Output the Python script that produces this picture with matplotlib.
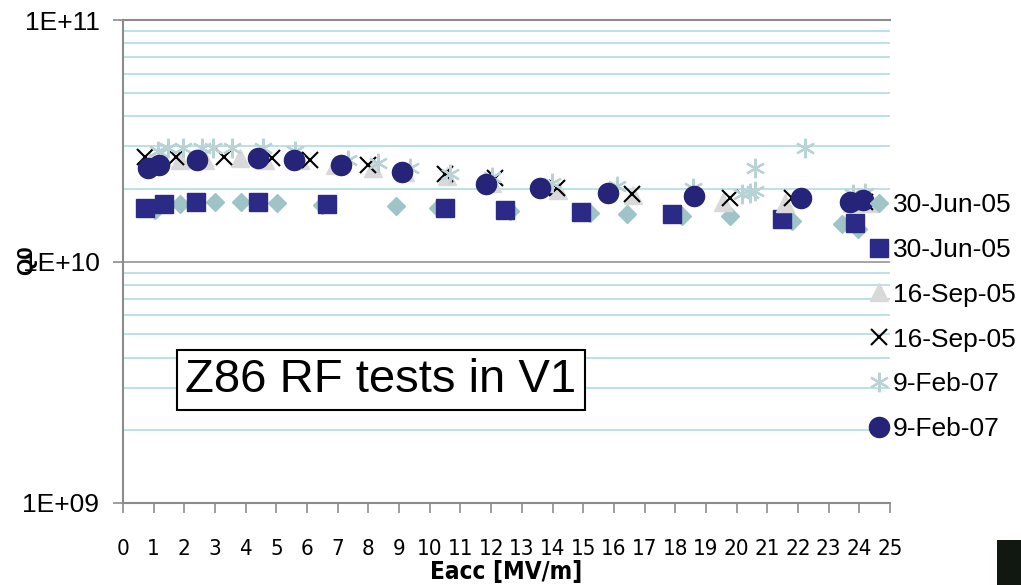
import matplotlib
matplotlib.use("Agg")
import matplotlib.pyplot as plt
from matplotlib import font_manager as fm
from matplotlib.patches import Rectangle
from matplotlib.ticker import FixedLocator, FuncFormatter, NullFormatter
import numpy as np

# ---------------- data ----------------
diam_e = [1.04, 1.86, 3.00, 3.85, 5.02, 6.49, 8.90, 10.27, 12.61, 15.22, 16.43, 18.22, 19.78, 21.81, 23.44, 23.96]
diam_q = [1.64, 1.73, 1.76, 1.76, 1.74, 1.72, 1.69, 1.66, 1.62, 1.59, 1.58, 1.55, 1.54, 1.47, 1.43, 1.36]

sq_e = [0.72, 1.34, 2.38, 4.40, 6.65, 10.50, 12.45, 14.93, 17.89, 21.48, 23.86]
sq_q = [1.66, 1.73, 1.76, 1.76, 1.73, 1.66, 1.63, 1.60, 1.58, 1.50, 1.45]

tri_e = [0.88, 1.86, 2.67, 3.81, 4.63, 5.77, 6.91, 8.15, 9.19, 10.56, 12.03, 14.18, 16.62, 19.56, 21.58, 23.76, 24.3]
tri_q = [2.55, 2.62, 2.62, 2.67, 2.62, 2.62, 2.50, 2.43, 2.34, 2.25, 2.12, 1.97, 1.88, 1.77, 1.75, 1.74, 1.74]

x_e = [0.72, 1.73, 3.29, 4.86, 6.10, 7.99, 10.50, 12.13, 14.15, 16.59, 19.79, 21.81, 24.2]
x_q = [2.70, 2.70, 2.72, 2.67, 2.62, 2.50, 2.31, 2.21, 2.02, 1.91, 1.84, 1.84, 1.77]

ast_e = [1.14, 1.47, 1.96, 2.57, 2.93, 3.55, 4.56, 5.61, 7.33, 8.31, 9.35, 10.66, 12.03, 13.98, 16.10, 18.58,
         20.18, 20.45, 20.60, 20.60, 22.23, 23.80, 24.2]
ast_q = [2.88, 2.94, 2.96, 2.96, 2.96, 2.96, 2.94, 2.88, 2.62, 2.57, 2.45, 2.31, 2.23, 2.12, 2.06, 2.02,
         1.91, 1.93, 1.95, 2.43, 2.94, 1.91, 1.93]

circ_e = [0.81, 1.17, 2.41, 4.40, 5.57, 7.11, 9.09, 11.83, 13.59, 15.81, 18.61, 22.10, 23.70, 24.12]
circ_q = [2.43, 2.52, 2.64, 2.67, 2.64, 2.50, 2.34, 2.10, 2.01, 1.93, 1.86, 1.84, 1.76, 1.79]

labels = ["30-Jun-05", "30-Jun-05", "16-Sep-05", "16-Sep-05", "9-Feb-07", "9-Feb-07"]
x_ticks = list(range(0, 26))
y_ticks = [1e9, 1e10, 1e11]
y_tick_labels = ["1E+09", "1E+10", "1E+11"]
q_scale = 1e10

# ---------------- fonts ----------------
arial = ["Liberation Sans", "DejaVu Sans"]
_fonts = fm.fontManager.ttflist
_names = {f.name for f in _fonts}
narrow_family, narrow_stretch, narrow_size, xlab_size = arial, "normal", 15.5, 16
if "Liberation Sans Narrow" in _names:
    narrow_family, narrow_stretch, narrow_size, xlab_size = ["Liberation Sans Narrow"] + arial, "normal", 19, 18
elif any(f.name == "DejaVu Sans" and str(f.stretch) in ("condensed", "semi-condensed") for f in _fonts):
    narrow_family, narrow_stretch, narrow_size, xlab_size = ["DejaVu Sans"], "condensed", 16, 17.5

# ---------------- figure ----------------
W, H = 1021, 585
fig = plt.figure(figsize=(W / 100, H / 100), dpi=100)
fig.patch.set_facecolor("white")
ax = fig.add_axes([123 / W, (H - 503) / H, (890 - 123) / W, (503 - 20) / H])

series = [
    (diam_e, diam_q, dict(marker="D", ms=9.5, color="#9fc4c8", mec="#9fc4c8")),
    (sq_e, sq_q, dict(marker="s", ms=13.5, color="#2b2a87", mec="#2b2a87")),
    (tri_e, tri_q, dict(marker="^", ms=13, color="#d9d9d9", mec="#d9d9d9")),
    (x_e, x_q, dict(marker="x", ms=12, color="black", mew=1.5)),
    (ast_e, ast_q, dict(marker=(6, 2, 0), ms=14, color="#b7d3d5", mew=1.6)),
    (circ_e, circ_q, dict(marker="o", ms=14.5, color="#262479", mec="#262479")),
]
handles = []
for (e, q, kw), lab in zip(series, labels):
    h, = ax.plot(e, np.array(q) * q_scale, linestyle="none", label=lab, clip_on=False, **kw)
    handles.append(h)

ax.set_yscale("log")
ax.set_xlim(0, 25)
ax.set_ylim(1e9, 1e11)

ax.yaxis.set_major_locator(FixedLocator(y_ticks))
ax.yaxis.set_major_formatter(FuncFormatter(lambda v, p: y_tick_labels[y_ticks.index(v)] if v in y_ticks else ""))
minor = [m * 10 ** d for d in (9, 10) for m in range(2, 10)]
ax.yaxis.set_minor_locator(FixedLocator(minor))
ax.yaxis.set_minor_formatter(NullFormatter())
ax.tick_params(axis="y", which="minor", length=0)
ax.tick_params(axis="y", which="major", direction="out", length=7, color="#8c8c8c", width=1.2,
               labelsize=19, pad=10)
for t in ax.get_yticklabels():
    t.set_family(arial)

ax.set_xticks(x_ticks)
ax.set_xticklabels([str(v) for v in x_ticks])
ax.tick_params(axis="x", direction="out", length=7, color="#8c8c8c", width=1.2, labelsize=narrow_size, pad=19)
for t in ax.get_xticklabels():
    t.set_family(narrow_family)
    t.set_fontstretch(narrow_stretch)

ax.grid(True, which="minor", axis="y", color="#a9d8de", lw=1.1)
ax.grid(True, which="major", axis="y", color="#8c8c8c", lw=1.1)
ax.set_axisbelow(True)

ax.spines["right"].set_visible(False)
for s in ("top", "left", "bottom"):
    ax.spines[s].set_color("#8c8c8c")
    ax.spines[s].set_linewidth(1.5)

ax.set_xlabel("Eacc [MV/m]", family=narrow_family, fontstretch=narrow_stretch, fontweight="bold",
              fontsize=xlab_size, va="center")
ax.xaxis.set_label_coords(0.5, (503 - 572) / 483)
fig.text(27 / W, (H - 260) / H, "Q0", rotation=90, ha="center", va="center",
         fontsize=16, fontweight="bold", family=arial)

ax.text((381 - 123) / 767, (503 - 380) / 483, "Z86 RF tests in V1", transform=ax.transAxes,
        ha="center", va="center", fontsize=34, family=arial,
        bbox=dict(boxstyle="square,pad=0.17", fc="white", ec="black", lw=1.5))

leg = ax.legend(handles=handles, loc="upper left", bbox_to_anchor=(868 / W, (H - 193) / H),
                bbox_transform=fig.transFigure, frameon=False, numpoints=1,
                handlelength=0.8, handletextpad=0.15, labelspacing=0.79, borderpad=0,
                borderaxespad=0, prop=dict(family=arial, size=19))

fig.add_artist(Rectangle((997 / W, 0), 24 / W, 45 / H, transform=fig.transFigure,
                         facecolor="#111811", edgecolor="none"))

fig.savefig("out.png", dpi=100)
